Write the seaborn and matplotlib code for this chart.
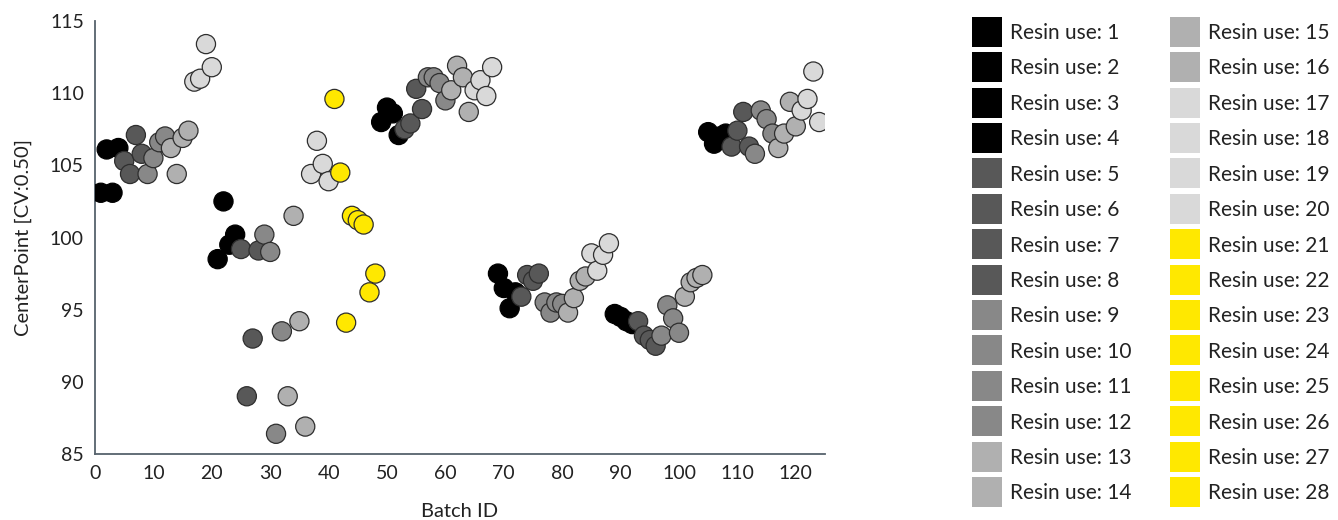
import matplotlib
matplotlib.use("Agg")
import matplotlib.pyplot as plt
from matplotlib.lines import Line2D
import seaborn as sns
import pandas as pd

# ---------------- data ----------------
batch_id = list(range(1, 125))

resin_use = (list(range(1, 21)) + list(range(1, 29)) + list(range(1, 21))
             + list(range(1, 21)) + list(range(1, 17)) + list(range(1, 21)))

center_point = [
    # batches 1-20
    103.1, 106.1, 103.1, 106.2, 105.3, 104.4, 107.1, 105.8, 104.4, 105.5,
    106.6, 107.0, 106.2, 104.4, 106.9, 107.4, 110.8, 111.0, 113.4, 111.8,
    # batches 21-48
    98.5, 102.5, 99.5, 100.2, 99.2, 89.0, 93.0, 99.1, 100.2, 99.0,
    86.4, 93.5, 89.0, 101.5, 94.2, 86.9, 104.4, 106.7, 105.1, 103.9,
    109.6, 104.5, 94.1, 101.5, 101.2, 100.9, 96.2, 97.5,
    # batches 49-68
    108.0, 109.0, 108.6, 107.1, 107.5, 107.9, 110.3, 108.9, 111.1, 111.1,
    110.7, 109.5, 110.2, 111.9, 111.1, 108.7, 110.2, 110.9, 109.8, 111.8,
    # batches 69-88
    97.5, 96.5, 95.1, 96.2, 95.9, 97.4, 97.0, 97.5, 95.5, 94.8,
    95.5, 95.4, 94.8, 95.8, 97.0, 97.3, 98.9, 97.7, 98.8, 99.6,
    # batches 89-104
    94.7, 94.5, 94.2, 94.0, 94.2, 93.2, 92.9, 92.5, 93.2, 95.3,
    94.4, 93.4, 95.9, 96.9, 97.2, 97.4,
    # batches 105-124
    107.3, 106.5, 107.0, 107.2, 106.3, 107.4, 108.7, 106.3, 105.8, 108.8,
    108.2, 107.2, 106.2, 107.2, 109.4, 107.7, 108.8, 109.6, 111.5, 108.0,
]

resin_levels = list(range(1, 29))
level_colors = (["#000000"] * 4 + ["#585858"] * 4 + ["#888888"] * 4
                + ["#b0b0b0"] * 4 + ["#d9d9d9"] * 4 + ["#ffe800"] * 8)
x_ticks = list(range(0, 121, 10))
y_ticks = [85, 90, 95, 100, 105, 110, 115]

labels = [f"Resin use: {r}" for r in resin_levels]
palette = dict(zip(labels, level_colors))

df = pd.DataFrame({
    "Batch ID": batch_id,
    "CenterPoint": center_point,
    "Resin": [f"Resin use: {r}" for r in resin_use],
})

# ---------------- style ----------------
sns.set_style("white")
plt.rcParams["font.family"] = ["Lato", "DejaVu Sans"]
axis_col = "#56626c"
text_col = "#222222"

fig = plt.figure(figsize=(13.38, 5.2), dpi=100)
ax = fig.add_axes([95 / 1338, 66 / 520, (825 - 95) / 1338, (454 - 21) / 520])

edge = ["#000000" if palette[r] == "#000000" else "#2e2e2e" for r in df["Resin"]]
sns.scatterplot(data=df, x="Batch ID", y="CenterPoint", hue="Resin",
                hue_order=labels, palette=palette, s=190,
                edgecolor=edge, linewidth=0.9, legend=False, ax=ax, zorder=3)

ax.set_xlim(0, 125)
ax.set_ylim(85, 115)
ax.set_xticks(x_ticks)
ax.set_yticks(y_ticks)
for s in ["top", "right"]:
    ax.spines[s].set_visible(False)
for s in ["left", "bottom"]:
    ax.spines[s].set_color(axis_col)
    ax.spines[s].set_linewidth(1.3)
ax.tick_params(axis="both", direction="out", length=5, width=1.2,
               color=axis_col, labelsize=14, labelcolor=text_col, pad=3)
ax.set_xlabel("Batch ID", fontsize=14.5, color=text_col, labelpad=15)
ax.set_ylabel("CenterPoint [CV:0.50]", fontsize=14.5, color=text_col, labelpad=13)

handles = [Line2D([0], [0], marker="s", linestyle="none", markersize=21,
                  markerfacecolor=palette[l], markeredgewidth=0)
           for l in labels]
leg = fig.legend(handles, labels, ncol=2, loc="upper left",
                 bbox_to_anchor=(972 / 1338, 1 - 23 / 520),
                 frameon=False, fontsize=15, handlelength=1.4,
                 handletextpad=0.4, columnspacing=1.9, labelspacing=0.74,
                 borderaxespad=0, borderpad=0)
for t in leg.get_texts():
    t.set_color(text_col)

fig.savefig("out.png", dpi=100)
